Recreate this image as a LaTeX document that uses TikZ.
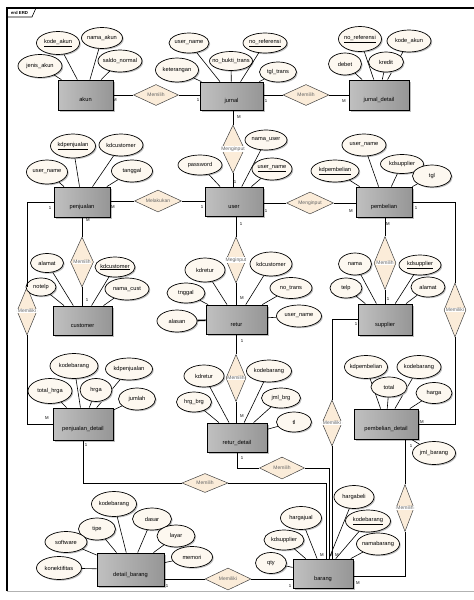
\documentclass[tikz,border=0pt]{standalone}
\usepackage{fontspec}
\newfontfamily\erdfont{Liberation Sans}
\usetikzlibrary{positioning,shapes.geometric,shadows}
\definecolor{erdbox}{RGB}{150,150,150}
\definecolor{erdboxlt}{RGB}{192,192,192}
\definecolor{erdattr}{RGB}{253,248,240}
\definecolor{erdrel}{RGB}{251,236,217}
\newcommand{\ctext}[1]{\makebox[0pt]{#1}}
\newcommand{\vtext}[1]{\makebox[0pt]{\setlength{\fboxsep}{0.6pt}\colorbox{white}{#1}}}

\tikzset{
  entity/.style={draw, line width=0.8pt, left color=erdboxlt, right color=erdbox,
    drop shadow={shadow xshift=1.6pt, shadow yshift=-1.6pt, fill=black!25, opacity=1},
    minimum width=58pt, minimum height=30pt, inner sep=0pt, text height=13pt, text depth=0pt,
    font=\erdfont\fontsize{5.7}{6}\selectfont},
  attr/.style={ellipse, draw, line width=0.7pt, fill=erdattr,
    drop shadow={shadow xshift=1.2pt, shadow yshift=-1.2pt, fill=black!25, opacity=1},
    inner sep=0pt, font=\erdfont\fontsize{5.7}{6}\selectfont},
  rel/.style={diamond, draw=black!75, line width=0.5pt, fill=erdrel, inner sep=0pt,
    text=black!60, font=\erdfont\fontsize{5}{6}\selectfont},
  card/.style={inner sep=0pt, font=\erdfont\fontsize{4.3}{5}\selectfont},
  link/.style={draw, line width=0.6pt}
}

\begin{document}
\begin{tikzpicture}[x=1pt, y=-1pt]
  \useasboundingbox (0,0) rectangle (474,600);
  % frame of the diagram
  \draw[black!30, line width=1pt] (7,591) -- (474,591);
  \draw[line width=1.6pt] (7,591) -- (7,8) -- (474,8);
  \draw[line width=0.6pt] (7,17) -- (32,17) -- (36,8);
  \node[font=\erdfont\bfseries\fontsize{4.3}{5}\selectfont, inner sep=0pt] (tab) at (19.5,12.8) {erd ERD};

  % entities
  \node[entity, minimum width=55pt] (akun) at (85.5,95) {akun};
  \node[entity, minimum width=63pt, minimum height=28pt] (jurnal) at (231.5,96) {jurnal};
  \node[entity, minimum width=60pt] (jurnal_detail) at (379,95) {jurnal\_detail};
  \node[entity, minimum width=56pt] (penjualan) at (82,202) {penjualan};
  \node[entity, minimum height=29pt] (user) at (234,201.5) {user};
  \node[entity, minimum width=56pt] (pembelian) at (384,202) {pembelian};
  \node[entity, minimum width=59pt, minimum height=29pt] (customer) at (82.5,320.5) {customer};
  \node[entity, minimum width=61pt, minimum height=29pt] (retur) at (236.5,319.5) {retur};
  \node[entity, minimum width=54pt, minimum height=31pt] (supplier) at (385,319.5) {supplier};
  \node[entity, minimum width=60pt, minimum height=32pt] (penjualan_detail) at (83,424) {penjualan\_detail};
  \node[entity, minimum width=60pt, minimum height=29pt] (retur_detail) at (237,437.5) {retur\_detail};
  \node[entity, minimum width=64pt] (pembelian_detail) at (386,424) {pembelian\_detail};
  \node[entity, minimum width=67pt, minimum height=33pt] (detail_barang) at (130.5,569.5) {detail\_barang};
  \node[entity, minimum width=60pt, minimum height=29pt] (barang) at (323,573.5) {barang};

  % relationships
  \node[rel, minimum width=45pt, minimum height=21pt] (r_akun) at (156,95) {\ctext{Memilih}};
  \node[rel, minimum width=46pt, minimum height=21pt] (r_jdetail) at (306,95) {\ctext{Memilih}};
  \node[rel, minimum width=23pt, minimum height=48pt] (r_juser) at (233,149) {\vtext{Menginput}};
  \node[rel, minimum width=47pt, minimum height=22pt] (r_pu) at (158,201) {\ctext{Melakukan}};
  \node[rel, minimum width=47pt, minimum height=22pt] (r_up) at (310,203) {\ctext{Menginput}};
  \node[rel, minimum width=23pt, minimum height=50pt] (r_pc) at (82,262) {\vtext{Memilih}};
  \node[rel, minimum width=20pt, minimum height=46pt] (r_ur) at (236,260) {\vtext{Meginput}};
  \node[rel, minimum width=22pt, minimum height=53pt] (r_ps) at (385,263) {\vtext{Memilih}};
  \node[rel, minimum width=20pt, minimum height=48pt] (r_pd) at (27,311) {\vtext{Memiliki}};
  \node[rel, minimum width=22pt, minimum height=54pt] (r_bd) at (455,310) {\vtext{Memiliki}};
  \node[rel, minimum width=20pt, minimum height=47pt] (r_rd) at (236,378) {\vtext{Memilih}};
  \node[rel, minimum width=20pt, minimum height=46pt] (r_sb) at (332,423) {\vtext{Memiliki}};
  \node[rel, minimum width=46pt, minimum height=19pt] (r_pjb) at (205,483) {\ctext{Memilih}};
  \node[rel, minimum width=45pt, minimum height=22pt] (r_rdb) at (282,468) {\ctext{Memilih}};
  \node[rel, minimum width=18pt, minimum height=47pt] (r_pbb) at (405,508) {\vtext{Memilih}};
  \node[rel, minimum width=46pt, minimum height=22pt] (r_db) at (228,579) {\ctext{Memiliki}};

  % attributes, each tied to its entity
  \foreach \x/\y/\w/\h/\t/\e [count=\i] in {
      58/43/43/23/{\underline{kode\_akun}}/akun, 102/38/41/21/nama\_akun/akun,
      40/66/44/23/jenis\_akun/akun, 120/61/44/22/saldo\_normal/akun,
      189/43/40/20/user\_name/jurnal, 231/61/43/19/no\_bukti\_trans/jurnal,
      265/43/44/20/{\underline{no\_referensi}}/jurnal, 177/70/43/24/keterangan/jurnal,
      278/72/37/20/tgl\_trans/jurnal,
      360/39/43/25/{\underline{no\_referensi}}/jurnal_detail, 409/41/44/22/kode\_akun/jurnal_detail,
      345/64/33/22/debet/jurnal_detail, 386/62/35/20/kredit/jurnal_detail,
      73/146/45/24/{\underline{kdpenjualan}}/penjualan, 121/145/44/22/kdcustomer/penjualan,
      47/172/41/24/user\_name/penjualan, 132/171/41/22/tanggal/penjualan,
      266/140/42/20/nama\_user/user, 200/165/44/20/password/user,
      272/169/40/22/{\underline{user\_name}}/user,
      364/145/44/22/user\_name/pembelian, 402/164/43/19/kdsupplier/pembelian,
      335/171/48/22/{\underline{kdpembelian}}/pembelian, 432/176/39/22/tgl/pembelian,
      47/263/33/19/alamat/customer, 115/267/40/20/{\underline{kdcustomer}}/customer,
      41/287/30/18/notelp/customer, 127/289/44/22/nama\_cust/customer,
      205/270/40/24/kdretur/retur, 271/264/42/24/kdcustomer/retur,
      186/293/38/20/tnggal/retur, 291/288/42/21/no\_trans/retur,
      299/316/45/22/user\_name/retur,
      355/264/33/22/nama/supplier, 420/265/42/20/{\underline{kdsupplier}}/supplier,
      346/288/32/20/telp/supplier, 428/287/34/20/alamat/supplier,
      74/366/48/25/kodebarang/penjualan_detail, 129/369/47/22/kdpenjualan/penjualan_detail,
      50/391/44/25/total\_hrga/penjualan_detail, 96/390/32/23/hrga/penjualan_detail,
      137/399/37/22/jumlah/penjualan_detail,
      204/376/40/22/kdretur/retur_detail, 194/402/35/20/hrg\_brg/retur_detail,
      269/371/45/22/kodebarang/retur_detail, 281/398/39/20/jml\_brg/retur_detail,
      294/422/35/20/tl/retur_detail,
      366/367/43/23/kdpembelian/pembelian_detail, 419/367/44/23/kodebarang/pembelian_detail,
      389/387/36/20/total/pembelian_detail, 434/393/36/21/harga/pembelian_detail,
      434/453/43/23/jml\_barang/pembelian_detail,
      354/497/40/23/hargabeli/barang, 301/518/41/23/hargajual/barang,
      368/521/45/22/{\underline{kodebarang}}/barang, 284/540/40/20/kdsupplier/barang,
      378/544/43/22/namabarang/barang, 271/563/31/21/qty/barang,
      114/504/45/25/kodebarang/detail_barang, 152/519/39/22/dasar/detail_barang,
      97/529/37/22/tipe/detail_barang, 176/536/38/22/layar/detail_barang,
      66/542/42/21/software/detail_barang, 192/557/41/21/memori/detail_barang,
      59/568/45/23/konektifitas/detail_barang}{
    \node[attr, minimum width=\w pt, minimum height=\h pt] (a\i) at (\x,\y) {\ctext{\t}};
    \draw[link] (a\i) -- (\e);
  }
  \node[attr, minimum width=40pt, minimum height=22pt] (a_alasan) at (177,321) {\ctext{alasan}};
  \draw[line width=1.6pt] (a_alasan) -- (retur);

  % connectors
  \draw[link] (akun.east) -- (r_akun.west);
  \draw[link] (r_akun.east) -- (r_akun.east -| jurnal.west);
  \draw[link] (jurnal.east |- r_jdetail) -- (r_jdetail.west);
  \draw[link] (r_jdetail.east) -- (jurnal_detail.west);
  \draw[link] (jurnal.south -| r_juser) -- (r_juser.north);
  \draw[link] (r_juser.south) -- (r_juser.south |- user.north);
  \draw[link] (penjualan.east |- r_pu) -- (r_pu.west);
  \draw[link] (r_pu.east) -- (r_pu.east -| user.west);
  \draw[link] (user.east |- r_up) -- (r_up.west);
  \draw[link] (r_up.east) -- (r_up.east -| pembelian.west);
  \draw[link] (penjualan.south -| r_pc) -- (r_pc.north);
  \draw[link] (r_pc.south) -- (r_pc.south |- customer.north);
  \draw[link] (user.south -| r_ur) -- (r_ur.north);
  \draw[link] (r_ur.south) -- (r_ur.south |- retur.north);
  \draw[link] (pembelian.south -| r_ps) -- (r_ps.north);
  \draw[link] (r_ps.south) -- (r_ps.south |- supplier.north);
  \draw[link] (retur.south -| r_rd) -- (r_rd.north);
  \draw[link] (r_rd.south) -- (r_rd.south |- retur_detail.north);
  \draw[link] (penjualan.west) -| (r_pd.north);
  \draw[link] (r_pd.south) |- (penjualan_detail.west);
  \draw[link] (pembelian.east) -| (r_bd.north);
  \draw[link] (r_bd.south) |- (pembelian_detail.east);
  \draw[link] (supplier.west) -| (r_sb.north);
  \draw[link] (r_sb.south) -- (r_sb.south |- barang.north);
  \draw[link] (penjualan_detail.south) |- (r_pjb.west);
  \draw[link] (r_pjb.east) -| ([xshift=3pt]barang.north);
  \draw[link] (retur_detail.south) |- (r_rdb.west);
  \draw[link] (r_rdb.east) -| ([xshift=6pt]barang.north);
  \draw[link] (r_pbb.north) -- (r_pbb.north |- pembelian_detail.south);
  \draw[link] (r_pbb.south) |- ([yshift=-2.5pt]barang.east);
  \draw[link] (detail_barang.east |- r_db) -- (r_db.west);
  \draw[link] (r_db.east) -- (r_db.east -| barang.west);

  % cardinalities
  \foreach \x/\y/\m [count=\i] in {
      115/100/M, 198/100/1, 266/101/1, 344/101/M, 239/117/M, 235/182/1,
      113/207/M, 202/207/1, 266/211/1, 351/211/M, 388/224/M, 416/208/1,
      50/208/1, 88/220/M, 87/300/1, 241/224/1, 242/298/M, 242/341/1,
      242/416/M, 242/458/1, 388/299/1, 356/324/1, 422/422/M, 411/446/1,
      86/445/1, 47/418/M, 322/555/M, 331/555/M, 337/555/M, 358/583/M,
      290/586/1, 167/586/1}
    \node[card] (c\i) at (\x,\y) {\m};
\end{tikzpicture}
\end{document}
